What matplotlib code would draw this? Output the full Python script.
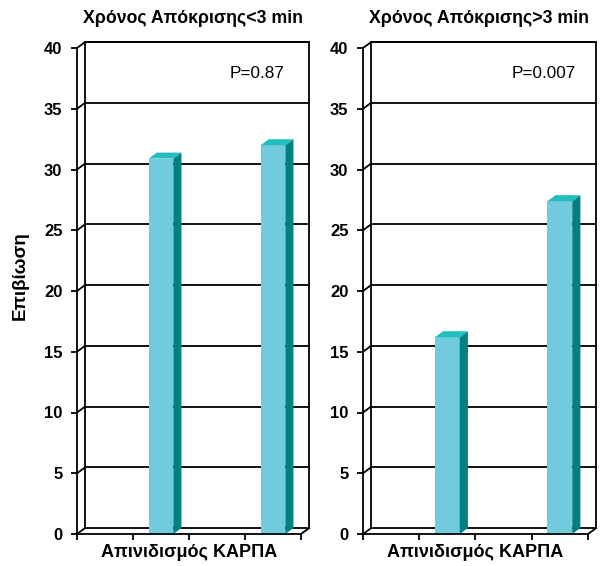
import numpy as np
import matplotlib
matplotlib.use('Agg')
import matplotlib.pyplot as plt
from matplotlib.patches import Polygon, Rectangle

plt.rcParams['font.family'] = ['Liberation Sans', 'DejaVu Sans']

# four slots along the floor, bars only in the 2nd and 4th
slots = [0, 1, 2, 3]
survival_lt3 = [np.nan, 30.9, np.nan, 32.0]
survival_gt3 = [np.nan, 16.2, np.nan, 27.4]
titles = ['Χρόνος Απόκρισης<3 min', 'Χρόνος Απόκρισης>3 min']
p_values = ['P=0.87', 'P=0.007']
yticks = [0, 5, 10, 15, 20, 25, 30, 35, 40]
xlabel = 'Απινιδισμός ΚΑΡΠΑ'
ylabel = 'Επιβίωση'

FRONT = '#70CCDC'
SIDE = '#008080'
TOP = '#22BEBE'

W, H = 606, 566
XL = (-0.7, 4.35)
YL = (-2.6, 43.6)
DX, DY = 0.145, 0.49   # depth of the box in data units
BW = 0.44             # bar width


def make_axes(fig, ox, oy, ux, uy):
    left = ox + XL[0] * ux
    bottom = oy - YL[0] * uy
    w = (XL[1] - XL[0]) * ux
    h = (YL[1] - YL[0]) * uy
    ax = fig.add_axes([left / W, (H - bottom) / H, w / W, h / H])
    ax.set_xlim(*XL)
    ax.set_ylim(*YL)
    return ax


def draw_panel(ax, values, title, ptext, show_ylabel):
    lc = 'black'
    lw = 1.3
    n = len(slots)
    # back wall outline and gridlines
    ax.plot([DX, DX, n + DX, n + DX], [DY, 40 + DY, 40 + DY, DY], color=lc, lw=lw, zorder=1)
    for y in yticks:
        ax.plot([DX, n + DX], [y + DY, y + DY], color=lc, lw=lw, zorder=1)
        ax.plot([0, DX], [y, y + DY], color=lc, lw=lw, zorder=1)
    # floor
    ax.plot([n, n + DX], [0, DY], color=lc, lw=lw, zorder=1)

    for s, v in zip(slots, values):
        if np.isnan(v):
            continue
        c = s + 0.5
        x0, x1 = c - BW / 2, c + BW / 2
        ax.add_patch(Rectangle((x0, 0), BW, v, facecolor=FRONT, edgecolor='none', zorder=3))
        ax.add_patch(Polygon([(x1, 0), (x1 + DX, DY), (x1 + DX, v + DY), (x1, v)],
                             closed=True, facecolor=SIDE, edgecolor='none', zorder=3))
        ax.add_patch(Polygon([(x0, v), (x0 + DX, v + DY), (x1 + DX, v + DY), (x1, v)],
                             closed=True, facecolor=TOP, edgecolor='none', zorder=3))

    for side in ['top', 'right']:
        ax.spines[side].set_visible(False)
    ax.spines['left'].set_position(('data', 0))
    ax.spines['left'].set_bounds(0, 40)
    ax.spines['bottom'].set_position(('data', 0))
    ax.spines['bottom'].set_bounds(0, n)
    for side in ['left', 'bottom']:
        ax.spines[side].set_linewidth(lw)
        ax.spines[side].set_zorder(4)
    ax.set_yticks(yticks)
    ax.set_yticklabels([str(t) for t in yticks], fontsize=12, fontweight='bold')
    ax.set_xticks(range(n + 1))
    ax.set_xticklabels([])
    ax.tick_params(direction='out', length=4, width=lw)
    ax.tick_params(axis='y', pad=6.5)

    ax.text(2.07, 42.45, title, ha='center', va='center', fontsize=12.8, fontweight='bold')
    ax.text(3.22, 37.9, ptext, ha='center', va='center', fontsize=12.3)
    ax.text(2.0, -1.5, xlabel, ha='center', va='center', fontsize=13, fontweight='bold')
    if show_ylabel:
        ax.text(-1.02, 21.3, ylabel, ha='center', va='center', rotation=90,
                fontsize=13.5, fontweight='bold')


fig = plt.figure(figsize=(W / 100, H / 100), dpi=100)
ax1 = make_axes(fig, 77, 534, 56.0, 12.15)
ax2 = make_axes(fig, 363, 534, 56.25, 12.15)
draw_panel(ax1, survival_lt3, titles[0], p_values[0], True)
draw_panel(ax2, survival_gt3, titles[1], p_values[1], False)

fig.savefig('out.png', dpi=100)
